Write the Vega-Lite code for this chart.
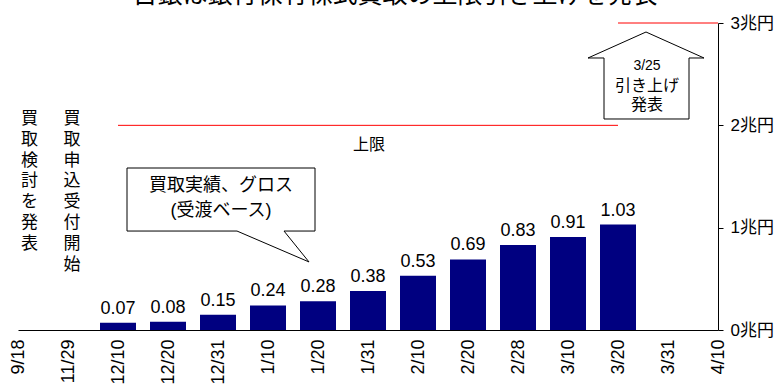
{
  "$schema": "https://vega.github.io/schema/vega-lite/v6.json",
  "width": 700,
  "height": 307,
  "autosize": {"type": "none"},
  "padding": {"left": 18, "top": 23, "right": 63, "bottom": 61},
  "config": {"view": {"stroke": null}, "font": "Liberation Sans, Noto Sans CJK JP", "text": {"font": "Liberation Sans, Noto Sans CJK JP", "color": "black"}},
  "datasets": {
    "bars": [
      {"d": "9/18", "v": null}, {"d": "11/29", "v": null},
      {"d": "12/10", "v": 0.07}, {"d": "12/20", "v": 0.08}, {"d": "12/31", "v": 0.15},
      {"d": "1/10", "v": 0.24}, {"d": "1/20", "v": 0.28}, {"d": "1/31", "v": 0.38},
      {"d": "2/10", "v": 0.53}, {"d": "2/20", "v": 0.69}, {"d": "2/28", "v": 0.83},
      {"d": "3/10", "v": 0.91}, {"d": "3/20", "v": 1.03},
      {"d": "3/31", "v": null}, {"d": "4/10", "v": null}
    ],
    "limits": [
      {"a": "12/10", "b": "3/20", "y": 2},
      {"a": "3/20", "b": "4/10", "y": 3}
    ],
    "shapes": [
      {"s": "arrow", "o": 0, "x": 12.56, "y": 2.912},
      {"s": "arrow", "o": 1, "x": 13.72, "y": 2.658},
      {"s": "arrow", "o": 2, "x": 13.42, "y": 2.658},
      {"s": "arrow", "o": 3, "x": 13.42, "y": 2.062},
      {"s": "arrow", "o": 4, "x": 11.72, "y": 2.062},
      {"s": "arrow", "o": 5, "x": 11.72, "y": 2.658},
      {"s": "arrow", "o": 6, "x": 11.40, "y": 2.658},
      {"s": "arrow", "o": 7, "x": 12.56, "y": 2.912},
      {"s": "bubble", "o": 0, "x": 2.18, "y": 1.583},
      {"s": "bubble", "o": 1, "x": 5.94, "y": 1.583},
      {"s": "bubble", "o": 2, "x": 5.94, "y": 0.967},
      {"s": "bubble", "o": 3, "x": 5.32, "y": 0.967},
      {"s": "bubble", "o": 4, "x": 5.82, "y": 0.665},
      {"s": "bubble", "o": 5, "x": 4.38, "y": 0.967},
      {"s": "bubble", "o": 6, "x": 2.18, "y": 0.967},
      {"s": "bubble", "o": 7, "x": 2.18, "y": 1.583}
    ],
    "title": [{"x": 7.54, "y": 3.195, "t": "日銀は銀行保有株式買取の上限引き上げを発表"}],
    "big": [
      {"x": 4.06, "y": 1.407, "t": "買取実績、グロス"},
      {"x": 4.06, "y": 1.163, "t": "(受渡ベース)"}
    ],
    "mid": [
      {"x": 7.02, "y": 1.81, "t": "上限"},
      {"x": 12.58, "y": 2.385, "t": "引き上げ"},
      {"x": 12.58, "y": 2.20, "t": "発表"}
    ],
    "small": [{"x": 12.58, "y": 2.58, "t": "3/25"}],
    "vert": [
      {"x": 0.23, "y": 2.14, "t": "買\n取\n検\n討\nを\n発\n表"},
      {"x": 1.08, "y": 2.14, "t": "買\n取\n申\n込\n受\n付\n開\n始"}
    ]
  },
  "layer": [
    {
      "layer": [
        {
          "data": {"name": "bars"},
          "mark": {"type": "bar", "width": 36, "color": "#000080"},
          "encoding": {
            "x": {"field": "d", "type": "ordinal", "sort": null,
              "scale": {"type": "point", "padding": 0, "domain": ["9/18","11/29","12/10","12/20","12/31","1/10","1/20","1/31","2/10","2/20","2/28","3/10","3/20","3/31","4/10"]},
              "axis": {"title": null, "labelAngle": -90, "ticks": false, "domainColor": "black", "labelColor": "black", "labelFontSize": 18, "labelFont": "Liberation Sans", "labelPadding": 9}},
            "y": {"field": "v", "type": "quantitative",
              "scale": {"domain": [0, 3], "nice": false, "zero": true},
              "axis": {"orient": "right", "values": [0, 1, 2, 3], "labelExpr": "datum.value + '兆円'", "title": null, "grid": false, "domainColor": "black", "tickColor": "black", "tickSize": 5, "labelColor": "black", "labelFontSize": 17, "labelPadding": 7, "labelFont": "Liberation Sans, Noto Sans CJK JP"}}
          }
        },
        {
          "data": {"name": "bars"},
          "mark": {"type": "text", "baseline": "bottom", "dy": -5, "fontSize": 18, "font": "Liberation Sans"},
          "encoding": {
            "x": {"field": "d", "type": "ordinal", "sort": null},
            "y": {"field": "v", "type": "quantitative"},
            "text": {"field": "v", "type": "quantitative", "format": ".2f"}
          }
        },
        {
          "data": {"name": "limits"},
          "mark": {"type": "rule", "color": "#FF0000", "strokeWidth": 1},
          "encoding": {
            "x": {"field": "a", "type": "ordinal", "sort": null},
            "x2": {"field": "b"},
            "y": {"field": "y", "type": "quantitative"}
          }
        }
      ]
    },
    {
      "layer": [
        {
          "data": {"name": "shapes"},
          "mark": {"type": "line", "color": "black", "strokeWidth": 1},
          "encoding": {
            "x": {"field": "x", "type": "quantitative", "scale": {"domain": [0, 14], "nice": false, "zero": false}, "axis": null},
            "y": {"field": "y", "type": "quantitative"},
            "detail": {"field": "s"},
            "order": {"field": "o", "type": "quantitative"}
          }
        },
        {
          "data": {"name": "title"},
          "mark": {"type": "text", "fontSize": 25, "baseline": "alphabetic", "align": "center"},
          "encoding": {"x": {"field": "x", "type": "quantitative"}, "y": {"field": "y", "type": "quantitative"}, "text": {"field": "t"}}
        },
        {
          "data": {"name": "big"},
          "mark": {"type": "text", "fontSize": 18, "baseline": "middle", "align": "center"},
          "encoding": {"x": {"field": "x", "type": "quantitative"}, "y": {"field": "y", "type": "quantitative"}, "text": {"field": "t"}}
        },
        {
          "data": {"name": "mid"},
          "mark": {"type": "text", "fontSize": 16, "baseline": "middle", "align": "center"},
          "encoding": {"x": {"field": "x", "type": "quantitative"}, "y": {"field": "y", "type": "quantitative"}, "text": {"field": "t"}}
        },
        {
          "data": {"name": "small"},
          "mark": {"type": "text", "fontSize": 14, "baseline": "middle", "align": "center"},
          "encoding": {"x": {"field": "x", "type": "quantitative"}, "y": {"field": "y", "type": "quantitative"}, "text": {"field": "t"}}
        },
        {
          "data": {"name": "vert"},
          "mark": {"type": "text", "fontSize": 17, "baseline": "top", "align": "center", "lineBreak": "\n", "lineHeight": 20.8},
          "encoding": {"x": {"field": "x", "type": "quantitative"}, "y": {"field": "y", "type": "quantitative"}, "text": {"field": "t"}}
        }
      ]
    }
  ],
  "resolve": {"scale": {"x": "independent"}}
}
